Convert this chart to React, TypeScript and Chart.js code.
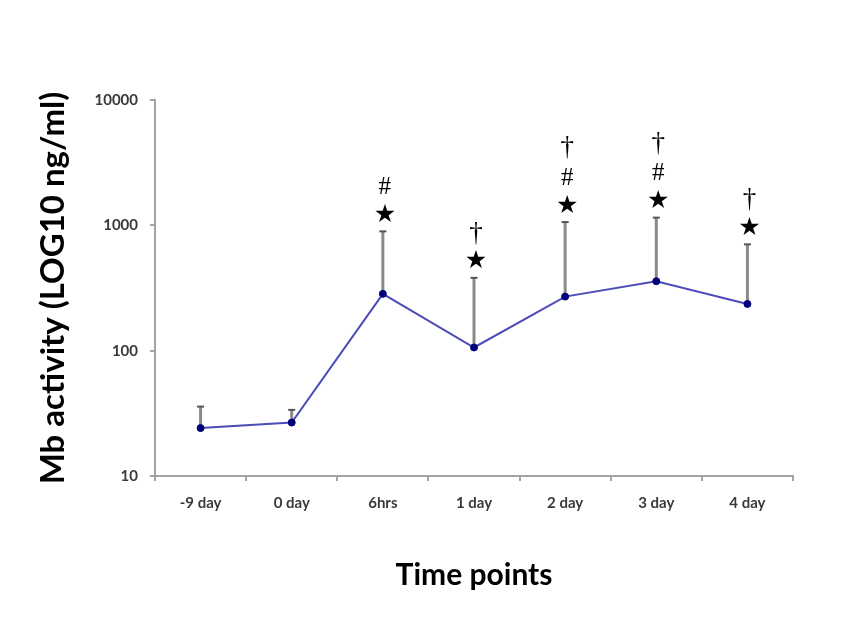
import { useEffect, useRef } from 'react';
import { Chart, registerables } from 'chart.js';

Chart.register(...registerables);

// Time points on the x axis
const timePoints = ['-9 day', '0 day', '6hrs', '1 day', '2 day', '3 day', '4 day'];
// Mean Mb activity (ng/ml)
const meanMb = [24.1, 26.7, 284, 106, 270, 358, 236];
// Upper end of the error bar (mean + SD)
const upperMb = [35.8, 33.7, 895, 381, 1062, 1152, 705];
// Significance markers stacked above each error bar, bottom to top
const significance: string[][] = [[], [], ['★', '#'], ['★', '†'], ['★', '#', '†'], ['★', '#', '†'], ['★', '†']];
// Decade ticks on the log axis
const yTicks = [10, 100, 1000, 10000];

const AXIS_GREY = '#a3a3a3';
const TEXT_GREY = '#3a3a3a';
const SANS = 'Lato, "Open Sans", sans-serif';

const errorBars = {
  id: 'errorBars',
  beforeDatasetsDraw(chart: Chart) {
    const { ctx } = chart;
    const xs = chart.scales.x;
    const ys = chart.scales.y;
    ctx.save();
    meanMb.forEach((m, i) => {
      const x = xs.getPixelForValue(i);
      const y0 = ys.getPixelForValue(m);
      const y1 = ys.getPixelForValue(upperMb[i]);
      ctx.strokeStyle = '#8a8a8a';
      ctx.lineWidth = 3;
      ctx.beginPath();
      ctx.moveTo(x, y0);
      ctx.lineTo(x, y1);
      ctx.stroke();
      ctx.strokeStyle = '#555555';
      ctx.lineWidth = 2;
      ctx.beginPath();
      ctx.moveTo(x - 3.5, y1);
      ctx.lineTo(x + 3.5, y1);
      ctx.stroke();
    });
    ctx.restore();
  },
};

const markerOffsets = [16, 44, 74];

const markers = {
  id: 'markers',
  afterDatasetsDraw(chart: Chart) {
    const { ctx } = chart;
    const xs = chart.scales.x;
    const ys = chart.scales.y;
    ctx.save();
    ctx.fillStyle = '#000000';
    ctx.textAlign = 'center';
    ctx.textBaseline = 'middle';
    significance.forEach((marks, i) => {
      const x = xs.getPixelForValue(i);
      const top = ys.getPixelForValue(upperMb[i]);
      marks.forEach((m, level) => {
        if (m === '★') {
          ctx.font = '25px "DejaVu Sans"';
        } else if (m === '†') {
          ctx.font = '27px "Liberation Serif"';
        } else {
          ctx.font = '25px "Liberation Serif"';
        }
        ctx.fillText(m, x + 2, top - markerOffsets[level]);
      });
    });
    ctx.restore();
  },
};

export default function App() {
  const canvasRef = useRef<HTMLCanvasElement | null>(null);

  useEffect(() => {
    if (!canvasRef.current) return;
    const chart = new Chart(canvasRef.current, {
      type: 'line',
      data: {
        labels: timePoints,
        datasets: [
          {
            data: meanMb,
            borderColor: '#4c4cb8',
            borderWidth: 2,
            pointRadius: 3.5,
            pointBackgroundColor: '#00007a',
            pointBorderColor: '#00007a',
            pointBorderWidth: 1,
            tension: 0,
          },
        ],
      },
      options: {
        animation: false,
        responsive: true,
        maintainAspectRatio: false,
        layout: { padding: { top: 100, right: 65, left: 0, bottom: 0 } },
        plugins: { legend: { display: false }, tooltip: { enabled: false } },
        scales: {
          x: {
            type: 'category',
            offset: true,
            grid: {
              offset: true,
              drawOnChartArea: false,
              drawTicks: true,
              tickLength: 5,
              color: AXIS_GREY,
              lineWidth: 2,
            },
            border: { color: AXIS_GREY, width: 2 },
            ticks: {
              color: TEXT_GREY,
              font: { family: SANS, size: 15, weight: 'bold' },
              padding: 13,
              maxRotation: 0,
            },
            title: {
              display: true,
              text: 'Time points',
              color: '#000000',
              font: { family: SANS, size: 30, weight: 'bold' },
              padding: { top: 0, bottom: 46 },
            },
            afterFit: (s: any) => {
              s.height = 163;
            },
          },
          y: {
            type: 'logarithmic',
            min: 10,
            max: 10000,
            afterBuildTicks: (s: any) => {
              s.ticks = yTicks.map((v) => ({ value: v }));
            },
            grid: {
              drawOnChartArea: false,
              drawTicks: true,
              tickLength: 5,
              color: AXIS_GREY,
              lineWidth: 2,
            },
            border: { color: AXIS_GREY, width: 2 },
            ticks: {
              color: TEXT_GREY,
              font: { family: SANS, size: 15, weight: 'bold' },
              padding: 12,
              callback: (v: any) => String(v),
            },
            title: {
              display: true,
              text: 'Mb activity (LOG10 ng/ml)',
              color: '#000000',
              font: { family: SANS, size: 33, weight: 'bold' },
              padding: { top: 34, bottom: 0 },
            },
            afterFit: (s: any) => {
              s.width = 155;
            },
          },
        },
      },
      plugins: [errorBars, markers],
    });
    return () => chart.destroy();
  }, []);

  return (
    <div style={{ position: 'absolute', left: 0, top: 0, width: 858, height: 639, background: '#ffffff' }}>
      <canvas ref={canvasRef} />
    </div>
  );
}
